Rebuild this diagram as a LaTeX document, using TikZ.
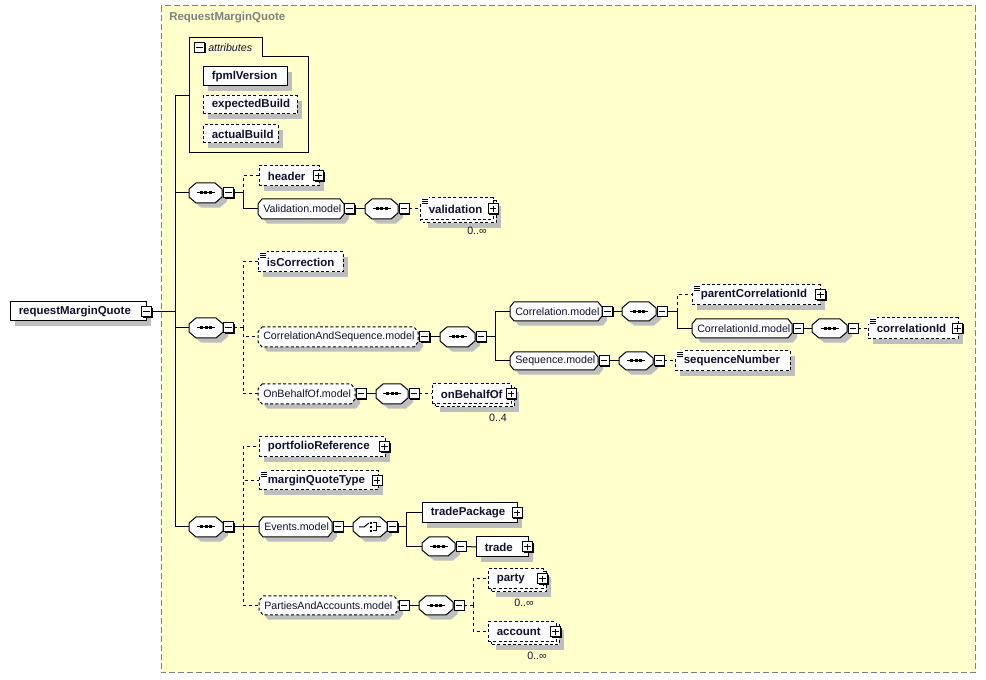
\documentclass[tikz,border=0pt]{standalone}
\usepackage{fontspec}
\setmainfont{Liberation Sans}
\usetikzlibrary{shadows}
\definecolor{bgy}{RGB}{255,255,204}
\definecolor{shd}{RGB}{190,190,190}
\definecolor{frm}{RGB}{128,128,128}
\definecolor{tx}{RGB}{16,16,48}
\pgfdeclarelayer{frame}
\pgfdeclarelayer{bg}
\pgfsetlayers{frame,bg,main}
\tikzset{
  dsh/.style={dash pattern=on 2.25pt off 1.7pt},
  shad/.style={general shadow={fill=shd, shadow xshift=3.75pt, shadow yshift=-3.4pt}},
  ebase/.style={rectangle, draw, line width=0.75pt, fill=white, inner sep=0pt, outer sep=0pt},
  eb/.style={ebase, shad},
  ebd/.style={ebase, dsh, shad},
  ebdf/.style={ebase, dsh},
  hold/.style={rectangle, draw=none, inner sep=0pt, outer sep=0pt},
  oct/.style={draw, line width=0.75pt, fill=white, shad},
  octd/.style={oct, dsh},
  etx/.style={font=\fontsize{8.6}{10}\selectfont\bfseries, text=tx, inner sep=0pt, anchor=west},
  mtx/.style={font=\fontsize{8}{10}\selectfont, text=tx, inner sep=0pt, anchor=west},
  itx/.style={font=\fontsize{8}{10}\selectfont\itshape, text=tx, inner sep=0pt, anchor=west},
  occ/.style={font=\fontsize{8}{10}\selectfont, text=tx, inner sep=0pt},
  pmb/.style={rectangle, draw, line width=0.75pt, fill=white, minimum size=7.5pt, inner sep=0pt, outer sep=0pt,
    general shadow={fill=black, shadow xshift=0.75pt, shadow yshift=-0.75pt}},
  pml/.style={line width=0.75pt},
  cn/.style={line width=0.75pt},
  dcn/.style={cn, dash pattern=on 2.25pt off 2.25pt},
  frame/.style={draw=frm, fill=bgy, line width=0.75pt, dash pattern=on 4.5pt off 2.25pt}
}
\newcommand\ebox[7]{%
  \node[#6, minimum width={(#4-#2)*0.75pt}, minimum height={(#5-#3)*0.75pt}] (#1) at ({(#2+#4)/2},{(#3+#5)/2}) {};
  \node[etx] (#1-t) at ({#2+8.5},{(#3+#5)/2}) {#7};}
\newcommand\stackbox[6]{%
  \path[ebd] ({#2+3},{#3+3}) rectangle ({#4+3},{#5+3});
  \ebox{#1}{#2}{#3}{#4}{#5}{ebdf}{#6}}
\newcommand\chbox[8]{%
  \path[#8] ({#2+#6},#3) -- ({#4-#6},#3) -- (#4,{#3+#7}) -- (#4,{#5-#7}) -- ({#4-#6},#5) -- ({#2+#6},#5) -- (#2,{#5-#7}) -- (#2,{#3+#7}) -- cycle;
  \node[hold, minimum width={(#4-#2)*0.75pt}, minimum height={(#5-#3)*0.75pt}] (#1) at ({(#2+#4)/2},{(#3+#5)/2}) {};}
\newcommand\seqsym[1]{%
  \draw[line width=0.75pt] ([shift={(-9,0)}]#1.center) -- ([shift={(9,0)}]#1.center);
  \foreach \d in {-4.5,0,4.5}{\fill ([shift={(\d-1.5,-1.5)}]#1.center) rectangle ([shift={(\d+1.5,1.5)}]#1.center);}}
\newcommand\chsym[1]{%
  \draw[line width=0.75pt] ([shift={(-11,0)}]#1.center) -- ([shift={(-6,0)}]#1.center) -- ([shift={(-1,-4)}]#1.center);
  \foreach \d in {-4,0,4}{\fill ([shift={(0,\d-1.2)}]#1.center) rectangle ([shift={(2.4,\d+1.2)}]#1.center);}
  \draw[line width=0.75pt] ([shift={(3,-4)}]#1.center) -- ([shift={(6,-4)}]#1.center) -- ([shift={(6,4)}]#1.center) -- ([shift={(3,4)}]#1.center)
    ([shift={(6,0)}]#1.center) -- ([shift={(11,0)}]#1.center);}
\newcommand\seqoct[5]{\chbox{#1}{#2}{#3}{#4}{#5}{7}{6}{oct}\seqsym{#1}}
\newcommand\mdl[7]{\chbox{#1}{#2}{#3}{#4}{#5}{4}{5}{#6}\node[mtx] (#1-t) at ({#2+5},{(#3+#5)/2}) {#7};}
\newcommand\minbx[3]{\node[pmb] (#1) at (#2,#3) {};
  \draw[pml] ([xshift=-2.6pt]#1.center) -- ([xshift=2.6pt]#1.center);}
\newcommand\plsbx[3]{\node[pmb] (#1) at (#2,#3) {};
  \draw[pml] ([xshift=-2.6pt]#1.center) -- ([xshift=2.6pt]#1.center) ([yshift=-2.6pt]#1.center) -- ([yshift=2.6pt]#1.center);}
\newcommand\simp[2]{%
  \fill[white] ({#1-1},{#2-1}) rectangle ({#1+9},{#2+6});
  \draw[line width=0.6pt] ({#1+2},{#2+1}) -- ({#1+8},{#2+1}) ({#1+2},{#2+3}) -- ({#1+8},{#2+3}) ({#1+2},{#2+5}) -- ({#1+8},{#2+5});}

\begin{document}
\begin{tikzpicture}[x=0.75pt, y=-0.75pt]
\useasboundingbox (0,0) rectangle (986,680);
\begin{pgfonlayer}{frame}
\path[frame] (161,6) rectangle (975,673);
\end{pgfonlayer}
\node[etx, text=frm] (title) at (169,18) {RequestMarginQuote};

% root
\ebox{root}{10}{302}{146}{321}{eb}{requestMarginQuote}
\minbx{rootm}{146.5}{312}
\coordinate (tr) at (175,312);

% attributes
\node[hold, minimum width={(308-189)*0.75pt}, minimum height={(153-38)*0.75pt}] (attr) at (248.5,95.5) {};
\draw[line width=0.75pt] (attr.south west) -- (attr.north west) -- (262,38) -- (262,57) -- (308,57) -- (attr.south east) -- cycle;
\minbx{attrm}{199.5}{47.5}
\node[itx] (attrt) at (208,47.5) {attributes};
\ebox{fpml}{203}{67}{287}{86}{eb}{fpmlVersion}
\ebox{expb}{203}{96}{297}{114}{ebd}{expectedBuild}
\ebox{actb}{203}{125}{278}{143}{ebd}{actualBuild}

% sequence 1
\seqoct{s1}{189}{183}{222}{203}
\minbx{s1m}{228.5}{193}
\coordinate (b1) at (243,193);
\ebox{hdr}{259}{166}{319}{186}{ebd}{header}
\plsbx{hdrp}{318.5}{176}
\mdl{valm}{258}{199}{344}{219}{oct}{Validation.model}
\minbx{valmm}{349.5}{209}
\seqoct{vs}{365}{199}{398}{219}
\minbx{vsm}{404}{209}
\stackbox{val}{420}{198}{493}{220}{validation}
\simp{420}{198}
\plsbx{valp}{493}{209}
\node[occ] (valo) at (477,231) {0..∞};

% sequence 2
\seqoct{s2}{189}{318}{223}{338}
\minbx{s2m}{228.5}{328}
\coordinate (b2) at (243,328);
\ebox{isc}{258}{252}{343}{272}{ebd}{isCorrection}
\simp{258}{252}
\mdl{cas}{258}{327}{418}{347}{octd}{CorrelationAndSequence.model}
\minbx{casm}{424.5}{337}
\seqoct{cs}{440}{327}{475}{347}
\minbx{csm}{481}{337}
\coordinate (b3) at (495,337);
\mdl{corm}{510}{302}{602}{321}{oct}{Correlation.model}
\minbx{cormm}{607.5}{311.5}
\seqoct{crs}{622}{302}{656}{321}
\minbx{crsm}{662}{311.5}
\coordinate (b4) at (677,311.5);
\ebox{pci}{692}{285}{820}{305}{ebd}{parentCorrelationId}
\simp{692}{285}
\plsbx{pcip}{820.5}{295}
\mdl{cim}{692}{319}{792}{338}{oct}{CorrelationId.model}
\minbx{cimm}{798}{328.5}
\seqoct{cis}{812}{319}{847}{338}
\minbx{cism}{853}{328.5}
\ebox{cid}{868}{318}{958}{339}{ebd}{correlationId}
\simp{868}{318}
\plsbx{cidp}{957.5}{328.5}
\mdl{sqm}{510}{352}{598}{370}{oct}{Sequence.model}
\minbx{sqmm}{604}{361}
\seqoct{sqs}{619}{352}{653}{370}
\minbx{sqsm}{659}{361}
\ebox{sqn}{675}{351}{790}{371}{ebd}{sequenceNumber}
\simp{675}{351}
\mdl{obm}{258}{384}{355}{404}{octd}{OnBehalfOf.model}
\minbx{obmm}{361}{394}
\seqoct{obs}{376}{384}{408}{404}
\minbx{obsm}{414}{394}
\stackbox{ob}{432}{384}{511}{404}{onBehalfOf}
\plsbx{obp}{511}{394}
\node[occ] (obo) at (498,418) {0..4};

% sequence 3
\seqoct{s3}{189}{517}{223}{537}
\minbx{s3m}{228.5}{527}
\coordinate (b5) at (243,527);
\ebox{pr}{259}{437}{385}{457}{ebd}{portfolioReference}
\plsbx{prp}{384.5}{447}
\ebox{mq}{259}{471}{378}{490}{ebd}{marginQuoteType}
\simp{259}{471}
\plsbx{mqp}{377}{480.5}
\mdl{evm}{259}{517}{332}{537}{oct}{Events.model}
\minbx{evmm}{338}{527}
\chbox{ch}{353}{517}{387}{537}{7}{6}{oct}
\chsym{ch}
\minbx{chm}{392.5}{527}
\coordinate (b6) at (406,527);
\ebox{tp}{422}{503}{517}{523}{eb}{tradePackage}
\plsbx{tpp}{517}{513}
\seqoct{ts}{422}{537}{455}{556}
\minbx{tsm}{461}{546.5}
\ebox{trd}{476}{537}{528}{557}{eb}{trade}
\plsbx{trdp}{527.5}{547}
\mdl{pam}{259}{596}{398}{615}{octd}{PartiesAndAccounts.model}
\minbx{pamm}{404}{605.5}
\seqoct{pas}{419}{596}{453}{615}
\minbx{pasm}{459}{605.5}
\coordinate (b7) at (473,605.5);
\stackbox{pty}{488}{569}{543}{589}{party}
\plsbx{ptyp}{542.5}{579}
\node[occ] (ptyo) at (524,603) {0..∞};
\stackbox{acc}{488}{622}{556}{642}{account}
\plsbx{accp}{555.5}{632}
\node[occ] (acco) at (537,656) {0..∞};

% connectors
\begin{pgfonlayer}{bg}
\draw[cn] (rootm.east) -- (tr);
\draw[cn] (tr) |- (attr.west);
\draw[cn] (tr) |- (s1.west);
\draw[cn] (tr) |- (s2.west);
\draw[cn] (tr) |- (s3.west);
% seq1
\draw[cn] (s1m.east) -- (b1);
\draw[dcn] (b1) |- (hdr.west);
\draw[cn] (b1) |- (valm.west);
\draw[cn] (valmm.east) -- (vs.west);
\draw[dcn] (vsm.east) -- (val.west);
% seq2
\draw[dcn] (s2m.east) -- (b2);
\draw[dcn] (b2) |- (isc.west);
\draw[dcn] (b2) |- (cas.west);
\draw[dcn] (b2) |- (obm.west);
\draw[cn] (casm.east) -- (cs.west);
\draw[cn] (csm.east) -- (b3);
\draw[cn] (b3) |- (corm.west);
\draw[cn] (b3) |- (sqm.west);
\draw[cn] (cormm.east) -- (crs.west);
\draw[cn] (crsm.east) -- (b4);
\draw[dcn] (b4) |- (pci.west);
\draw[cn] (b4) |- (cim.west);
\draw[cn] (cimm.east) -- (cis.west);
\draw[dcn] (cism.east) -- (cid.west);
\draw[cn] (sqmm.east) -- (sqs.west);
\draw[dcn] (sqsm.east) -- (sqn.west);
\draw[cn] (obmm.east) -- (obs.west);
\draw[dcn] (obsm.east) -- (ob.west);
% seq3
\draw[cn] (s3m.east) -- (b5);
\draw[dcn] (b5) |- (pr.west);
\draw[dcn] (b5) |- (mq.west);
\draw[dcn] (b5) |- (pam.west);
\draw[cn] (b5) |- (evm.west);
\draw[cn] (evmm.east) -- (ch.west);
\draw[cn] (chm.east) -- (b6);
\draw[cn] (b6) |- (tp.west);
\draw[cn] (b6) |- (ts.west);
\draw[cn] (tsm.east) -- (trd.west);
\draw[cn] (pamm.east) -- (pas.west);
\draw[dcn] (pasm.east) -- (b7);
\draw[dcn] (b7) |- (pty.west);
\draw[dcn] (b7) |- (acc.west);
\end{pgfonlayer}
\end{tikzpicture}
\end{document}
